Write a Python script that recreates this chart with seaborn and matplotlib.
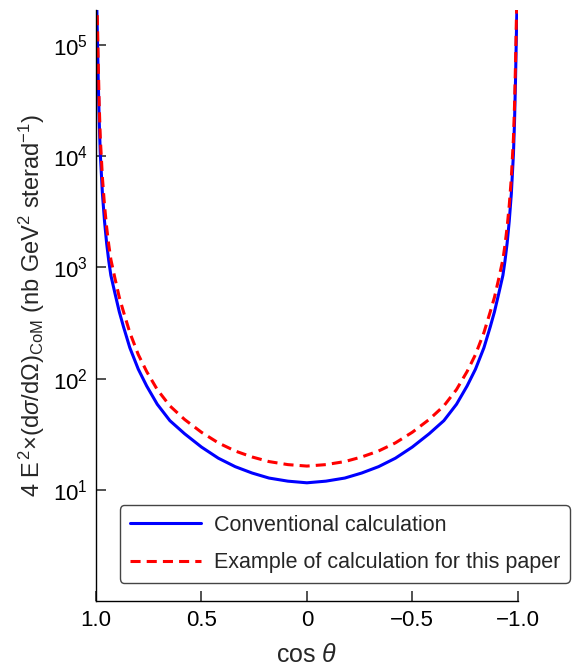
import numpy as np
import pandas as pd
import matplotlib
matplotlib.use("Agg")
import matplotlib.pyplot as plt
import seaborn as sns

# -----------------------------------------------------------------------------
# DATA
# -----------------------------------------------------------------------------
cos_half = [0.997, 0.993, 0.99, 0.985, 0.98, 0.97, 0.96, 0.95, 0.94, 0.93,
            0.91, 0.89, 0.87, 0.84, 0.80, 0.76, 0.71, 0.65, 0.58, 0.50,
            0.42, 0.34, 0.26, 0.18, 0.09, 0.0]

conventional_half = [2.4e5, 1.0e5, 5.0e4, 2.0e4, 1.05e4, 4.6e3, 2.6e3, 1.65e3,
                     1.15e3, 850, 580, 400, 293, 190, 122, 86, 59, 42, 32,
                     24.3, 19.3, 16.2, 14.2, 12.8, 12.0, 11.6]

paper_half = [3.0e5, 1.4e5, 7.0e4, 2.8e4, 1.45e4, 6.4e3, 3.6e3, 2.3e3,
              1.6e3, 1.18e3, 790, 540, 400, 260, 165, 116, 80, 57, 43,
              33, 26.5, 22.4, 19.8, 18.0, 16.9, 16.4]

# the picture is symmetric about cos theta = 0
cos_theta = cos_half + [-c for c in cos_half[-2::-1]]
conventional = conventional_half + conventional_half[-2::-1]
paper = paper_half + paper_half[-2::-1]

series_names = ["Conventional calculation", "Example of calculation for this paper"]
x_ticks = [1.0, 0.5, 0.0, -0.5, -1.0]
x_ticklabels = ["1.0", "0.5", "0", "\u22120.5", "\u22121.0"]
y_ticks = [1e1, 1e2, 1e3, 1e4, 1e5]

df = pd.DataFrame({
    "cos": cos_theta * 2,
    "value": conventional + paper,
    "series": [series_names[0]] * len(cos_theta) + [series_names[1]] * len(cos_theta),
})

# -----------------------------------------------------------------------------
# STYLE
# -----------------------------------------------------------------------------
sns.set_style("ticks")
plt.rcParams["font.family"] = ["Liberation Sans", "DejaVu Sans"]
plt.rcParams["mathtext.fontset"] = "custom"
plt.rcParams["mathtext.rm"] = "Liberation Sans"
plt.rcParams["mathtext.it"] = "Liberation Sans:italic"
plt.rcParams["mathtext.sf"] = "Liberation Sans"
plt.rcParams["xtick.direction"] = "in"
plt.rcParams["ytick.direction"] = "in"
plt.rcParams["xtick.major.size"] = 7
plt.rcParams["ytick.major.size"] = 7
plt.rcParams["xtick.major.width"] = 1.2
plt.rcParams["ytick.major.width"] = 1.2
plt.rcParams["xtick.color"] = "black"
plt.rcParams["ytick.color"] = "black"

fig = plt.figure(figsize=(5.72, 6.71), dpi=100)
ax = fig.add_axes([0.168, 0.104, 0.737, 0.881])

sns.lineplot(data=df, x="cos", y="value", hue="series", style="series",
             palette=["#0000ff", "#ff0000"],
             dashes={series_names[0]: "", series_names[1]: (3.3, 2.0)},
             linewidth=2.2, sort=False, estimator=None, ax=ax)

ax.set_yscale("log")
ax.set_xlim(1.0, -1.0)
ax.set_ylim(1.0, 2.06e5)
ax.set_xticks(x_ticks)
ax.set_xticklabels(x_ticklabels)
ax.set_yticks(y_ticks)
ax.yaxis.set_minor_locator(matplotlib.ticker.NullLocator())

for side in ["top", "right"]:
    ax.spines[side].set_visible(False)
for side in ["left", "bottom"]:
    ax.spines[side].set_color("black")
    ax.spines[side].set_linewidth(1.0)

ax.tick_params(axis="both", which="major", direction="in", length=7, width=1.2,
               color="#333333", labelsize=16, pad=6, left=True, bottom=True)

ax.set_xlabel(r"cos $\mathit{\theta}$", fontsize=18, labelpad=9)
ax.set_ylabel(r"4 E$^{\,2}$$\times$(d$\mathit{\sigma}$/d$\Omega$)$_{\rm CoM}$"
              r" (nb GeV$^{2}$ sterad$^{-1}$)", fontsize=17, labelpad=4)

leg = ax.legend(loc="lower left", bbox_to_anchor=(0.031, 0.013), fontsize=15.5,
                frameon=True, fancybox=True, edgecolor="#444444",
                handlelength=3.3, borderpad=0.45, labelspacing=0.75,
                handletextpad=0.6)
leg.get_frame().set_linewidth(1.0)
leg.get_frame().set_alpha(1.0)

fig.savefig("out.png", dpi=100)
